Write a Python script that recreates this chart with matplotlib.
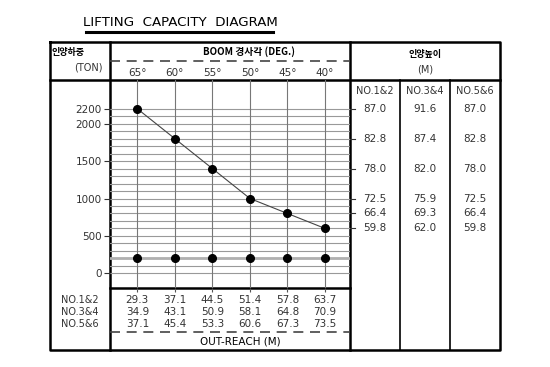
import matplotlib
matplotlib.use("Agg")
import matplotlib.pyplot as plt
import matplotlib.transforms as mtrans

plt.rcParams["font.family"] = ["DejaVu Sans", "Noto Sans CJK KR"]

angles = ["65°", "60°", "55°", "50°", "45°", "40°"]
loads = [2200, 1800, 1400, 1000, 800, 600]
low_loads = [200, 200, 200, 200, 200, 200]
y_ticks = [0, 500, 1000, 1500, 2000, 2200]
groups = ["NO.1&2", "NO.3&4", "NO.5&6"]
reach = {
    "NO.1&2": [29.3, 37.1, 44.5, 51.4, 57.8, 63.7],
    "NO.3&4": [34.9, 43.1, 50.9, 58.1, 64.8, 70.9],
    "NO.5&6": [37.1, 45.4, 53.3, 60.6, 67.3, 73.5],
}
height = {
    "NO.1&2": [87.0, 82.8, 78.0, 72.5, 66.4, 59.8],
    "NO.3&4": [91.6, 87.4, 82.0, 75.9, 69.3, 62.0],
    "NO.5&6": [87.0, 82.8, 78.0, 72.5, 66.4, 59.8],
}

W, H = 550, 367
fig = plt.figure(figsize=(W / 100, H / 100), dpi=100)

# background axes in pixel coords for the table frame
bg = fig.add_axes([0, 0, 1, 1])
bg.set_xlim(0, W)
bg.set_ylim(H, 0)
bg.axis("off")

txt = "#333333"
kr = ["Noto Sans CJK KR", "DejaVu Sans"]

# title
bg.text(180, 23, "LIFTING  CAPACITY  DIAGRAM", ha="center", va="center",
        fontsize=9.6, color="black")
bg.plot([86, 273], [32, 32], color="black", lw=2.2)

# frame
lw_thick = 1.8
bg.plot([50, 500, 500, 50, 50], [42, 42, 350, 350, 42], color="black", lw=lw_thick)
bg.plot([110, 110], [42, 350], color="black", lw=lw_thick)
bg.plot([350, 350], [42, 350], color="black", lw=lw_thick)
bg.plot([50, 500], [80, 80], color="black", lw=lw_thick)
bg.plot([110, 350], [288, 288], color="black", lw=lw_thick)
bg.plot([400, 400], [80, 350], color="black", lw=1.2)
bg.plot([450, 450], [80, 350], color="black", lw=1.2)
bg.plot([110, 350], [61, 61], color="#444444", lw=1.2, ls=(0, (6, 4)))
bg.plot([110, 350], [332, 332], color="#444444", lw=1.2, ls=(0, (6, 4)))

# header texts
bg.text(52, 53, "인양하중", ha="left", va="center", fontsize=6.5,
        fontweight="bold", family=kr)
bg.text(103, 68, "(TON)", ha="right", va="center", fontsize=7, color=txt)
bg.text(249, 52, "BOOM 경사각 (DEG.)", ha="center", va="center", fontsize=7,
        fontweight="bold", family=kr)
bg.text(425, 55, "인양높이", ha="center", va="center", fontsize=6.5,
        fontweight="bold", family=kr)
bg.text(425, 70, "(M)", ha="center", va="center", fontsize=7, color=txt)
bg.text(240, 342, "OUT-REACH (M)", ha="center", va="center", fontsize=7.5,
        color="black")

# plot area
ax = fig.add_axes([110 / W, 1 - 288 / H, 240 / W, 208 / H])
xs = list(range(len(angles)))
ax.set_xlim(-0.727, 5.665)
ax.set_ylim(-196, 2584)
for s in ax.spines.values():
    s.set_visible(False)
for v in range(0, 2201, 100):
    ax.axhline(v, color="#999999", lw=0.8, zorder=1)
for x in xs:
    ax.axvline(x, color="#777777", lw=0.8, zorder=1)
ax.axhline(low_loads[0], color="#b0b0b0", lw=2, zorder=2)
ax.plot(xs, loads, color="#444444", lw=0.8, zorder=3)
ax.plot(xs, loads, "o", color="black", ms=5.5, zorder=4)
ax.plot(xs, low_loads, "o", color="black", ms=5.5, zorder=4)
ax.set_yticks(y_ticks)
ax.set_yticklabels([str(v) for v in y_ticks], fontsize=7.5, color=txt)
ax.set_xticks(xs)
ax.set_xticklabels([])
ax.tick_params(axis="y", length=4, width=0.8, color="#333333", pad=2)
ax.tick_params(axis="x", bottom=True, top=False, length=3, width=0.8,
               color="#555555", direction="out")
ax.patch.set_alpha(0)

# angle labels over the columns
top_blend = mtrans.blended_transform_factory(ax.transData, bg.transData)
for x, a in zip(xs, angles):
    bg.text(x, 73, a, transform=top_blend, ha="center", va="center",
            fontsize=7.5, color=txt)

# out-reach rows below the plot
row_y = [300, 312, 324]
for g, ry in zip(groups, row_y):
    bg.text(80, ry, g, ha="center", va="center", fontsize=7, color=txt)
    for x, v in zip(xs, reach[g]):
        bg.text(x, ry, f"{v:.1f}", transform=top_blend, ha="center",
                va="center", fontsize=7.5, color=txt)

# lifting height table on the right
col_x = [375, 425, 475]
blend = mtrans.blended_transform_factory(bg.transData, ax.transData)
for g, cx in zip(groups, col_x):
    bg.text(cx, 91, g, ha="center", va="center", fontsize=7, color=txt)
    for ld, hv in zip(loads, height[g]):
        bg.text(cx, ld, f"{hv:.1f}", transform=blend, ha="center",
                va="center", fontsize=7.5, color=txt)
for ld in loads:
    bg.plot([350, 355], [ld, ld], transform=blend, color="#333333", lw=0.8)

fig.savefig("out.png", dpi=100)
